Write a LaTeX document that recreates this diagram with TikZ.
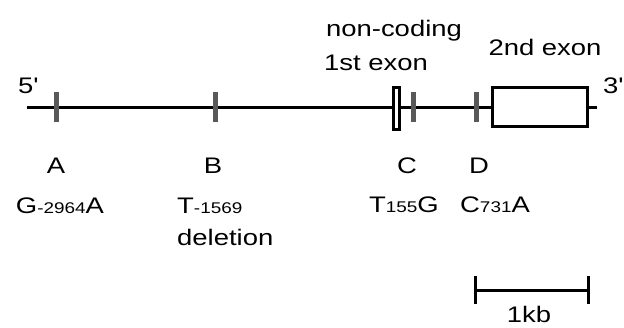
\documentclass[tikz,border=0pt]{standalone}
\usepackage{fontspec}
\setmainfont{Liberation Sans}[FakeStretch=1.22]
\usetikzlibrary{positioning}
\tikzstyle{snp}=[rectangle,fill=black!65,minimum width=5pt,minimum height=30pt,inner sep=0pt]
\tikzstyle{exon}=[rectangle,draw,line width=3pt,fill=white,inner sep=0pt]
\tikzstyle{gene} = [draw,line width=3pt]
\tikzstyle{lbl} = [font=\fontsize{22.5}{24}\selectfont,inner sep=0pt,anchor=base]
\newcommand{\subpos}[1]{{\fontsize{15.5}{15}\selectfont #1}}

\begin{document}
\begin{tikzpicture}[x=1pt,y=-1pt]
\useasboundingbox (0,0) rectangle (624,327);

   \def\gy{107};
% gene line
   \coordinate (five) at (27,\gy);
   \coordinate (three) at (597,\gy);
   \path[gene] (five) -- (three);

% polymorphic sites
    \foreach \pos/\name in {{(56,\gy)/sA}, {(215,\gy)/sB}, {(413,\gy)/sC}, {(476,\gy)/sD}}
        \node[snp] (\name) at \pos {};

% exons
   \node[exon,minimum width=6pt,minimum height=42pt] (exA) at (396.5,108.5) {};
   \node[exon,minimum width=95pt,minimum height=39pt] (exB) at (540,107) {};

% ends and exon labels
   \node[lbl] (p5) at (28,93) {5\textquotesingle};
   \node[lbl] (p3) at (613,93) {3\textquotesingle};
   \node[lbl] (nc) at (394,36) {non-coding};
   \node[lbl] (e1) at (376,70) {1st exon};
   \node[lbl] (e2) at (545,55) {2nd exon};

% site letters
    \foreach \x/\name/\txt in {56/lA/A, 213/lB/B, 407/lC/C, 479/lD/D}
        \node[lbl] (\name) at (\x,173) {\txt};

% alleles
   \node[lbl] (mA) at (60,213) {G\subpos{-2964}A};
   \node[lbl,anchor=base west] (mB) at (177,213) {T\subpos{-1569}};
   \node[lbl,anchor=base west] (mB2) at (177,245) {deletion};
   \node[lbl] (mC) at (404,212) {T\subpos{155}G};
   \node[lbl] (mD) at (495,212) {C\subpos{731}A};

%scale bar
   \coordinate (barL) at (475,290);
   \coordinate (barR) at (588,290);
   \path[gene] (barL) -- (barR);
   \path[gene] ([yshift=14pt]barL) -- ([yshift=-14pt]barL);
   \path[gene] ([yshift=14pt]barR) -- ([yshift=-14pt]barR);
   \node[lbl] (kb) at (529,322) {1kb};

   \end{tikzpicture}
\end{document}
